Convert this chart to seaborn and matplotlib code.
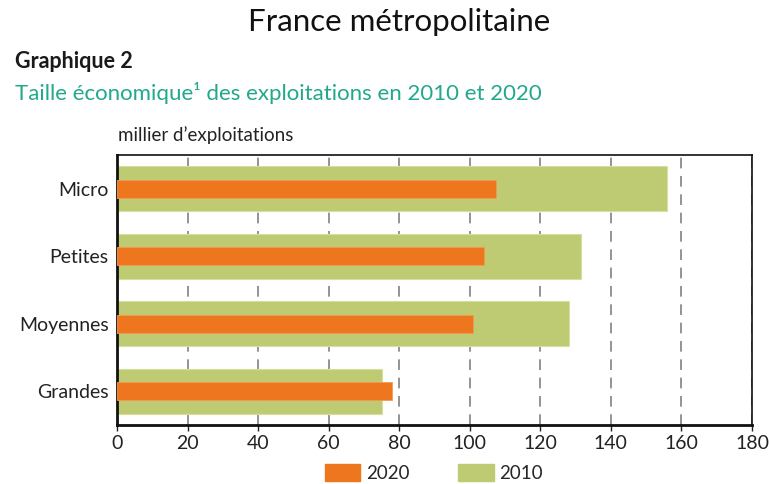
import pandas as pd
import matplotlib.pyplot as plt
import seaborn as sns
from matplotlib.patches import Patch

# -----------------------------
# Données (millier d'exploitations)
# -----------------------------
categories = ['Micro', 'Petites', 'Moyennes', 'Grandes']
values_2010 = [156, 131.5, 128, 75]
values_2020 = [107.5, 104, 101, 78]
xticks = [0, 20, 40, 60, 80, 100, 120, 140, 160, 180]

df = pd.DataFrame({'taille': categories, '2010': values_2010, '2020': values_2020})

green = '#BFCB73'
orange = '#EE761E'
teal = '#22A88C'

sns.set_theme(style='white')
plt.rcParams['font.family'] = ['Lato', 'DejaVu Sans']

fig = plt.figure(figsize=(7.69, 4.84), dpi=100)
ax = fig.add_axes([117/769, 1 - 425/484, (752-117)/769, (425-155)/484])

sns.barplot(data=df, x='2010', y='taille', orient='h', color=green, width=0.66,
            saturation=1, edgecolor='#D6DEA0', linewidth=0.8, ax=ax, zorder=2)
sns.barplot(data=df, x='2020', y='taille', orient='h', color=orange, width=0.26,
            saturation=1, edgecolor='#F39A55', linewidth=0.6, ax=ax, zorder=3)

ax.set_xlim(0, 180)
ax.set_ylim(3.5, -0.5)
ax.set_xticks(xticks)
ax.set_xticklabels([str(t) for t in xticks], fontsize=14, color='#222222')
ax.tick_params(axis='y', labelsize=14, colors='#222222', length=0, pad=6)
ax.tick_params(axis='x', length=4, width=1, color='#222222', direction='out', pad=3, bottom=True)
ax.set_xlabel('')
ax.set_ylabel('')
ax.xaxis.grid(True, linestyle=(0, (7, 5)), color='#777777', linewidth=1.1, zorder=0)
ax.set_axisbelow(True)
for side in ['top', 'right', 'left', 'bottom']:
    ax.spines[side].set_visible(True)
    ax.spines[side].set_color('#111111')
    ax.spines[side].set_linewidth(1.2)
ax.spines['left'].set_linewidth(2)
ax.spines['bottom'].set_linewidth(2)

# Titres
fig.text(399/769, 1 - 22/484, 'France métropolitaine', ha='center', va='center',
         fontsize=22.5, color='#111111')
fig.text(15/769, 1 - 62/484, 'Graphique 2', ha='left', va='center',
         fontsize=15.5, fontweight='bold', color='#1a1a1a')
fig.text(15/769, 1 - 93/484, 'Taille économique¹ des exploitations en 2010 et 2020',
         ha='left', va='center', fontsize=16, color=teal)
fig.text(118/769, 1 - 135/484, 'millier d\u2019exploitations', ha='left', va='center',
         fontsize=13.5, color='#222222')

# Légende
handles = [Patch(facecolor=orange, edgecolor=orange, label='2020'),
           Patch(facecolor=green, edgecolor=green, label='2010')]
fig.legend(handles=handles, loc='center', bbox_to_anchor=(434/769, 1 - 473/484), ncol=2,
           frameon=False, fontsize=13.5, handlelength=1.9, handleheight=1.0,
           columnspacing=2.6, handletextpad=0.3)

plt.savefig('out.png', dpi=100)
